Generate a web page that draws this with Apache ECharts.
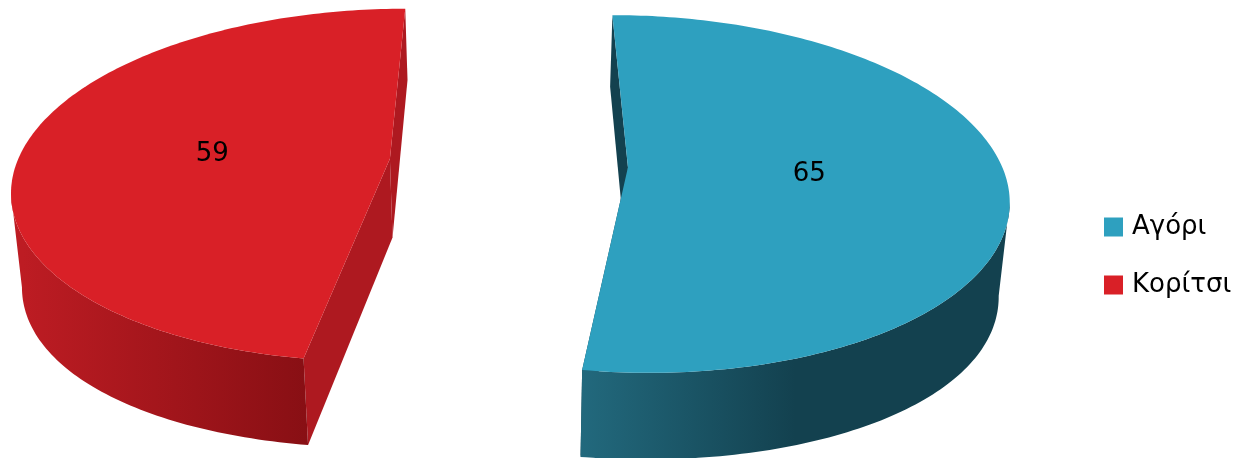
<!DOCTYPE html>
<html><head><meta charset="utf-8">
<script src="https://cdn.jsdelivr.net/npm/echarts@6/dist/echarts.min.js"></script>
<style>html,body{margin:0;padding:0;background:#fff}#c{width:1238px;height:458px}</style>
</head><body><div id="c"></div>
<script>
const categories = ['Αγόρι', 'Κορίτσι'];
const values = [65, 59];
const faceColors = ['#2ea0bf', '#d92027'];
const cutColors = ['#13414f', '#ae1920'];
const wallStops = [
  [[0, '#22697d'], [0.5, '#13414f'], [1, '#13414f']],
  [[0, '#bd1c23'], [1, '#880f14']]
];
const wallRange = [[581, 1009], [22, 308]];
const labelNudge = [[-7, 0], [6, 2]];

// Perspective model of the exploded pie
const CX = 508.5, A = 373, HY = -1002, G = 1165, K = 0.149, EXPLODE = 0.32;
const total = values.reduce((a, b) => a + b, 0);
const rad = d => d * Math.PI / 180;
const slices = [];
let acc = 0;
values.forEach(v => { const s = v / total * 360; slices.push({ a: acc, b: acc + s, m: acc + s / 2 }); acc += s; });

function proj(sl, r, deg, bottom) {
  const sn = Math.sin(rad(deg));
  const X = r * sn + EXPLODE * Math.sin(rad(sl.m));
  const Y = r * Math.cos(rad(deg)) + EXPLODE * Math.cos(rad(sl.m));
  const w = 1 + K * Y;
  let sx = CX + A * X / w, sy = HY + G / w;
  if (bottom) { sy += 79 - 7.5 * Y + 14 * r * sn * sn; sx -= 0.022 * (sx - CX); }
  return [sx, sy];
}
function arcDegrees(sl) {
  const ds = [];
  for (let d = sl.a; d < sl.b; d += 1) ds.push(d);
  ds.push(sl.b);
  return ds;
}
function poly(points, fill, z) {
  return { type: 'polygon', z2: z, shape: { points }, style: { fill }, silent: true };
}
function renderSlice(i) {
  return function () {
    const sl = slices[i];
    const ds = arcDegrees(sl);
    const top = ds.map(d => proj(sl, 1, d, false));
    // The outer wall is visible only from the silhouette point to the front edge
    let ext = 0;
    top.forEach((p, k) => { if (Math.abs(p[0] - CX) > Math.abs(top[ext][0] - CX)) ext = k; });
    const visible = (i === 0 ? ds.slice(ext) : ds.slice(0, ext + 1));
    const wallTop = visible.map(d => proj(sl, 1, d, false));
    const wallBot = visible.map(d => proj(sl, 1, d, true));
    const c0 = proj(sl, 0, 0, false), c1 = proj(sl, 0, 0, true);
    const back0 = proj(sl, 1, i === 0 ? sl.a : sl.b, false), back1 = proj(sl, 1, i === 0 ? sl.a : sl.b, true);
    const front0 = proj(sl, 1, i === 0 ? sl.b : sl.a, false), front1 = proj(sl, 1, i === 0 ? sl.b : sl.a, true);
    const grad = new echarts.graphic.LinearGradient(wallRange[i][0], 0, wallRange[i][1], 0,
      wallStops[i].map(s => ({ offset: s[0], color: s[1] })), true);
    const lp = proj(sl, 0.5, sl.m, false);
    return {
      type: 'group',
      children: [
        poly([back0, c0, c1, back1], cutColors[i], 1),
        poly([front0, c0, c1, front1], cutColors[i], 1),
        poly(wallTop.concat(wallBot.slice().reverse()), grad, 2),
        poly([c0].concat(top), faceColors[i], 3),
        { type: 'text', z2: 4, silent: true,
          x: lp[0] + labelNudge[i][0], y: lp[1] + labelNudge[i][1],
          style: { text: String(values[i]), fill: '#000', font: '26px "DejaVu Sans"', align: 'center', verticalAlign: 'middle' } }
      ]
    };
  };
}
const chart = echarts.init(document.getElementById('c'), null, { renderer: 'canvas' });
chart.setOption({
  animation: false,
  backgroundColor: '#fff',
  legend: {
    orient: 'vertical', left: 1104, top: 214, padding: 0, itemWidth: 19, itemHeight: 19, itemGap: 32,
    icon: 'rect', selectedMode: false,
    data: categories,
    textStyle: { fontFamily: 'DejaVu Sans', fontSize: 26, color: '#000', padding: [0, 0, 0, 4] }
  },
  series: categories.map((name, i) => ({
    type: 'custom', name, coordinateSystem: 'none', silent: true,
    itemStyle: { color: faceColors[i] },
    data: [values[i]],
    renderItem: renderSlice(i)
  }))
});
</script></body></html>
